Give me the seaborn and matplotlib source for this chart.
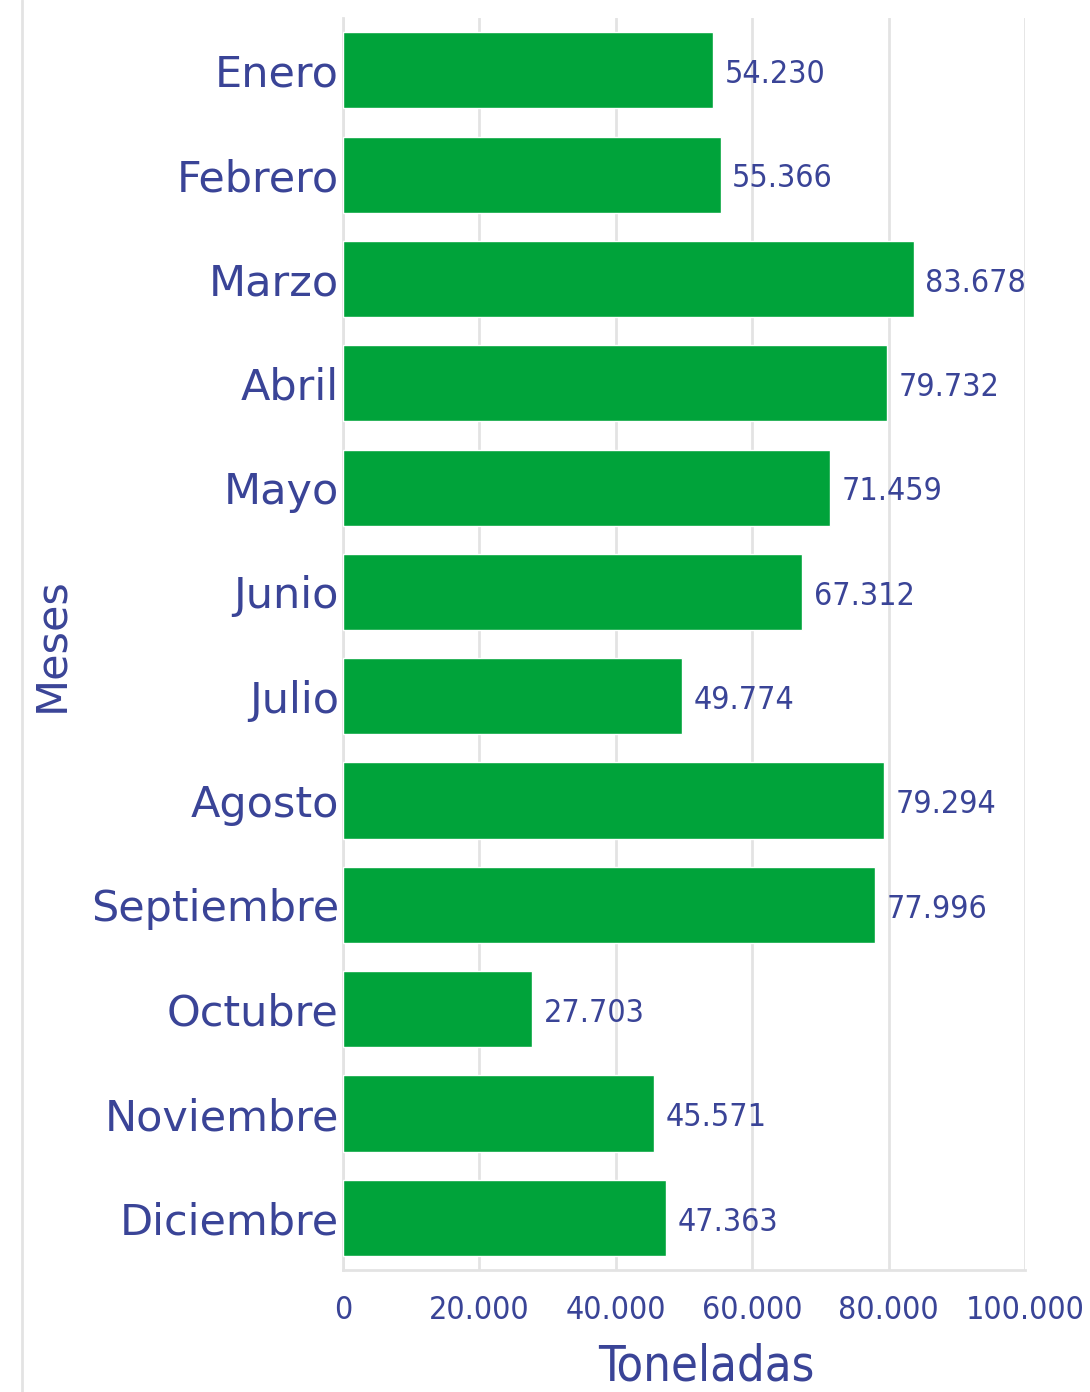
import matplotlib
matplotlib.use('Agg')
import matplotlib.pyplot as plt
from matplotlib import font_manager
from matplotlib.lines import Line2D
import seaborn as sns
import pandas as pd

# ── Data ─────────────────────────────────────────────────────────────────────
MESES = ['Enero', 'Febrero', 'Marzo', 'Abril', 'Mayo', 'Junio', 'Julio',
         'Agosto', 'Septiembre', 'Octubre', 'Noviembre', 'Diciembre']
TONELADAS = [54230, 55366, 83678, 79732, 71459, 67312, 49774,
             79294, 77996, 27703, 45571, 47363]
XTICKS = [0, 20000, 40000, 60000, 80000, 100000]

# ── Palette ──────────────────────────────────────────────────────────────────
GREEN = "#00A33A"
INK   = "#3A4497"
GRID  = "#E3E3E3"

# narrow font for the numbers: use a condensed face if one is installed
cond = [f for f in font_manager.fontManager.ttflist
        if ('condensed' in str(f.stretch).lower() or 'narrow' in f.name.lower()
            or 'condensed' in f.name.lower()) and f.weight in (400, 'normal', 'regular')]
if cond:
    NUM_FONT = dict(family=[cond[0].name, 'DejaVu Sans'], stretch=cond[0].stretch)
    NUM_SIZE, LAB_SIZE = 23, 35
else:
    NUM_FONT = dict(family=['Roboto', 'DejaVu Sans'])
    NUM_SIZE, LAB_SIZE = 21, 33


def spanish(v):
    return f"{v:,}".replace(',', '.')


sns.set_style('white')
plt.rcParams['font.family'] = ['DejaVu Sans']

df = pd.DataFrame({'Mes': MESES, 'Toneladas': TONELADAS})

fig = plt.figure(figsize=(10.9, 13.92), dpi=100)
ax = fig.add_axes([0.3147, 0.0876, 0.6257, 0.8994])

sns.barplot(data=df, y='Mes', x='Toneladas', order=MESES, color=GREEN,
            saturation=1, width=0.73, ax=ax, zorder=3)

ax.set_xlim(0, 100000)
ax.set_xticks(XTICKS)
ax.set_xticklabels([spanish(t) for t in XTICKS], fontsize=NUM_SIZE,
                   color=INK, **NUM_FONT)
ax.set_yticklabels(MESES, fontsize=31, color=INK)
ax.tick_params(axis='x', length=0, pad=18)
ax.tick_params(axis='y', length=0, pad=3)

ax.grid(axis='x', color=GRID, linewidth=2, zorder=0)
ax.set_axisbelow(True)
for side in ['top', 'right']:
    ax.spines[side].set_visible(False)
for side in ['left', 'bottom']:
    ax.spines[side].set_color(GRID)
    ax.spines[side].set_linewidth(2)

# Value labels
for bar, val in zip(ax.patches, TONELADAS):
    ax.text(bar.get_width() + 1700, bar.get_y() + bar.get_height() / 2 + 0.04,
            spanish(val), va='center', ha='left', fontsize=NUM_SIZE,
            color=INK, zorder=4, **NUM_FONT)

ax.set_xlabel('Toneladas', fontsize=LAB_SIZE, color=INK, **NUM_FONT)
ax.xaxis.set_label_coords(0.532, -0.058)
ax.set_ylabel('Meses', fontsize=31, color=INK)
ax.yaxis.set_label_coords(-0.397, 0.5)

# thin vertical rule at the left edge of the figure
fig.add_artist(Line2D([22 / 1090, 22 / 1090], [0, 1], color=GRID, linewidth=2,
                      transform=fig.transFigure))

fig.savefig('out.png', dpi=100, facecolor='white')
